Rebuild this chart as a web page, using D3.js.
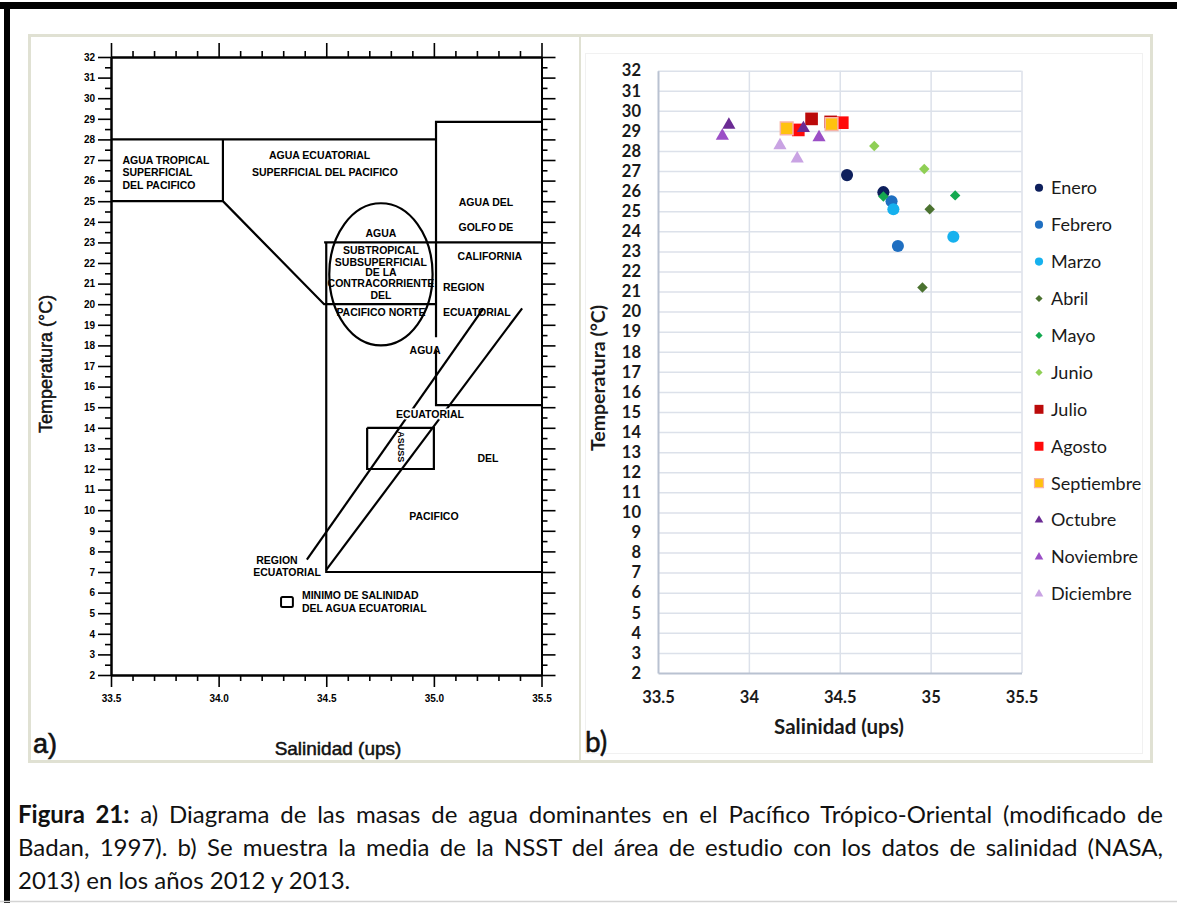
<!DOCTYPE html>
<html>
<head>
<meta charset="utf-8">
<script src="https://cdn.jsdelivr.net/npm/d3@7"></script>
<style>
  body { margin: 0; background: #fff; }
  #wrap { position: relative; width: 1177px; height: 903px; overflow: hidden; }
  #caption { position: absolute; left: 18px; top: 797px; width: 1145px;
             font-family: Lato, "Open Sans", sans-serif; font-size: 24px; line-height: 33px;
             color: #111; }
  #caption div { white-space: nowrap; }
  #caption .just { text-align: justify; text-align-last: justify; }
</style>
</head>
<body>
<div id="wrap"></div>
<script>
// ---------- panel a: water masses diagram (Badan, 1997) ----------
const salTicksA = [33.5, 34.0, 34.5, 35.0, 35.5];
const tempTicks = d3.range(2, 33);

// boundaries of the water masses, as [salinity, temperature] polylines
const massLines = [
  [[33.5, 28], [35.01, 28]],
  [[33.5, 25], [34.02, 25], [34.49, 20], [35.01, 20]],
  [[34.02, 28], [34.02, 25]],
  [[35.5, 28.85], [35.01, 28.85], [35.01, 18.4]],
  [[35.01, 17.8], [35.01, 15.1], [35.5, 15.1]],
  [[34.49, 23], [35.5, 23]],
  [[34.5, 23], [34.5, 7], [35.5, 7]],
  [[34.41, 7.6], [35.23, 19.8]],
  [[34.5, 7.1], [35.41, 19.8]],
  [[34.69, 14], [35.0, 14], [35.0, 12], [34.69, 12], [34.69, 14]]
];
const massEllipse = { s: 34.754, t: 21.45, ds: 0.24, dt: 3.45 };
const minimoBox = [[34.29, 5.79], [34.345, 5.3]];

// [salinity, temperature, text, anchor]
const massLabels = [
  [33.553, 27.0, "AGUA TROPICAL", "start"],
  [33.553, 26.42, "SUPERFICIAL", "start"],
  [33.553, 25.79, "DEL PACIFICO", "start"],
  [34.469, 27.24, "AGUA ECUATORIAL", "middle"],
  [34.494, 26.42, "SUPERFICIAL DEL PACIFICO", "middle"],
  [35.242, 24.96, "AGUA DEL", "middle"],
  [35.242, 23.75, "GOLFO DE", "middle"],
  [35.26, 22.34, "CALIFORNIA", "middle"],
  [34.754, 23.46, "AGUA", "middle"],
  [34.754, 22.63, "SUBTROPICAL", "middle"],
  [34.754, 22.05, "SUBSUPERFICIAL", "middle"],
  [34.754, 21.56, "DE LA", "middle"],
  [34.754, 21.03, "CONTRACORRIENTE", "middle"],
  [34.754, 20.45, "DEL", "middle"],
  [34.754, 19.62, "PACIFICO NORTE", "middle"],
  [35.042, 20.83, "REGION", "start"],
  [35.042, 19.62, "ECUATORIAL", "start"],
  [34.959, 17.78, "AGUA", "middle"],
  [34.982, 14.67, "ECUATORIAL", "middle"],
  [35.251, 12.53, "DEL", "middle"],
  [35.0, 9.72, "PACIFICO", "middle"],
  [34.271, 7.58, "REGION", "middle"],
  [34.318, 7.0, "ECUATORIAL", "middle"],
  [34.387, 5.88, "MINIMO DE SALINIDAD", "start"],
  [34.387, 5.25, "DEL AGUA ECUATORIAL", "start"]
];
const asswLabel = [34.85, 13.08, "ASUSS"];

// ---------- panel b: monthly NSST vs salinity ----------
const salTicksB = [33.5, 34, 34.5, 35, 35.5];
const months = ["Enero", "Febrero", "Marzo", "Abril", "Mayo", "Junio",
                "Julio", "Agosto", "Septiembre", "Octubre", "Noviembre", "Diciembre"];
const monthColors = ["#0d1f5c", "#1f6fc1", "#16b1ee", "#4b7230", "#14a84f", "#8fcf55",
                     "#bb0a0a", "#ff0a0a", "#ffc20e", "#6b2b94", "#9b4fc6", "#c9a3e3"];
const monthShapes = ["circle", "circle", "circle", "diamond", "diamond", "diamond",
                     "square", "square", "square", "triangle", "triangle", "triangle"];
const salinidad = [
  [34.54, 34.74], [34.785, 34.82], [34.795, 35.125], [34.995, 34.955],
  [34.74, 35.135], [34.69, 34.965], [34.345, 34.45], [34.272, 34.514],
  [34.208, 34.455], [33.89, 34.30], [33.854, 34.386], [34.171, 34.266]
];
const temperatura = [
  [26.8, 25.95], [25.5, 23.27], [25.1, 23.73], [25.1, 21.2],
  [25.73, 25.79], [28.25, 27.1], [29.6, 29.45], [29.05, 29.41],
  [29.13, 29.34], [29.3, 29.13], [28.75, 28.68], [28.28, 27.62]
];

// ---------- drawing ----------
const svg = d3.select("#wrap").append("svg")
    .attr("width", 1177).attr("height", 903)
    .style("position", "absolute").style("left", 0).style("top", 0);

// page frame
svg.append("rect").attr("x", 0).attr("y", 2).attr("width", 1177).attr("height", 7).attr("fill", "#000");
svg.append("rect").attr("x", 4).attr("y", 2).attr("width", 6).attr("height", 901).attr("fill", "#000");
svg.append("line").attr("x1", 0).attr("x2", 1177).attr("y1", 901.5).attr("y2", 901.5)
    .attr("stroke", "#d4d4d4").attr("stroke-width", 1.5);
svg.append("rect").attr("x", 29.5).attr("y", 35.5).attr("width", 1122).attr("height", 726)
    .attr("fill", "none").attr("stroke", "#e0e1d3").attr("stroke-width", 3);
svg.append("line").attr("x1", 580).attr("x2", 580).attr("y1", 35).attr("y2", 762)
    .attr("stroke", "#e0e1d3").attr("stroke-width", 2);

// ---- panel a ----
const xA = d3.scaleLinear([33.5, 35.5], [111, 541.5]);
const yA = d3.scaleLinear([2, 32], [675, 57]);
const gA = svg.append("g");
const fontA = "'Liberation Sans', Arial, sans-serif";

function styleAxisA(g) {
  g.select(".domain").attr("stroke", "#000").attr("stroke-width", 2);
  g.selectAll(".tick line").attr("stroke", "#000").attr("stroke-width", 1.6);
  g.selectAll(".tick text").attr("font-family", fontA).attr("font-weight", "bold")
      .attr("font-size", 10).attr("fill", "#000");
}
const minorSal = d3.range(0, 21).filter(i => i % 5).map(i => 33.5 + i * 0.1);
const minorTemp = d3.range(2.5, 32, 1);

gA.append("g").attr("transform", `translate(${xA(33.5)},0)`)
    .call(d3.axisLeft(yA).tickValues(tempTicks).tickSize(13).tickSizeOuter(0).tickPadding(3).tickFormat(d3.format("d")))
    .call(styleAxisA);
gA.append("g").attr("transform", `translate(${xA(33.5)},0)`)
    .call(d3.axisLeft(yA).tickValues(minorTemp).tickSize(6).tickSizeOuter(0).tickFormat(""))
    .call(styleAxisA);
gA.append("g").attr("transform", `translate(${xA(35.5)},0)`)
    .call(d3.axisRight(yA).tickValues(tempTicks).tickSize(14).tickSizeOuter(0).tickFormat(""))
    .call(styleAxisA);
gA.append("g").attr("transform", `translate(${xA(35.5)},0)`)
    .call(d3.axisRight(yA).tickValues(minorTemp).tickSize(6).tickSizeOuter(0).tickFormat(""))
    .call(styleAxisA);
gA.append("g").attr("transform", `translate(0,${yA(32)})`)
    .call(d3.axisTop(xA).tickValues(salTicksA).tickSize(14).tickSizeOuter(0).tickFormat(""))
    .call(styleAxisA);
gA.append("g").attr("transform", `translate(0,${yA(32)})`)
    .call(d3.axisTop(xA).tickValues(minorSal).tickSize(6).tickSizeOuter(0).tickFormat(""))
    .call(styleAxisA);
gA.append("g").attr("transform", `translate(0,${yA(2)})`)
    .call(d3.axisBottom(xA).tickValues(salTicksA).tickSize(12).tickSizeOuter(0).tickPadding(8).tickFormat(d3.format(".1f")))
    .call(styleAxisA);
gA.append("g").attr("transform", `translate(0,${yA(2)})`)
    .call(d3.axisBottom(xA).tickValues(minorSal).tickSize(6).tickSizeOuter(0).tickFormat(""))
    .call(styleAxisA);

const lineA = d3.line().x(d => xA(d[0])).y(d => yA(d[1]));
gA.selectAll("path.mass").data(massLines).join("path").attr("class", "mass")
    .attr("d", lineA).attr("fill", "none").attr("stroke", "#000").attr("stroke-width", 2.2);
gA.append("ellipse")
    .attr("cx", xA(massEllipse.s)).attr("cy", yA(massEllipse.t))
    .attr("rx", xA(massEllipse.s + massEllipse.ds) - xA(massEllipse.s))
    .attr("ry", yA(massEllipse.t - massEllipse.dt) - yA(massEllipse.t))
    .attr("fill", "none").attr("stroke", "#000").attr("stroke-width", 2.2);
gA.append("rect")
    .attr("x", xA(minimoBox[0][0])).attr("y", yA(minimoBox[0][1]))
    .attr("width", xA(minimoBox[1][0]) - xA(minimoBox[0][0]))
    .attr("height", yA(minimoBox[1][1]) - yA(minimoBox[0][1]))
    .attr("fill", "none").attr("stroke", "#000").attr("stroke-width", 2).attr("rx", 1.5);

gA.selectAll("text.mlab").data(massLabels).join("text").attr("class", "mlab")
    .attr("x", d => xA(d[0])).attr("y", d => yA(d[1])).attr("dy", "0.35em")
    .attr("text-anchor", d => d[3])
    .attr("font-family", fontA).attr("font-weight", "bold").attr("font-size", 10.5)
    .attr("stroke", (d, i) => i === 18 ? "#fff" : "none").attr("stroke-width", 3)
    .attr("paint-order", "stroke").attr("fill", "#000")
    .text(d => d[2]);
gA.append("text")
    .attr("transform", `translate(${xA(asswLabel[0])},${yA(asswLabel[1])}) rotate(90)`)
    .attr("text-anchor", "middle").attr("dy", "0.35em")
    .attr("font-family", fontA).attr("font-weight", "bold").attr("font-size", 9)
    .text(asswLabel[2]);

gA.append("text").attr("transform", "translate(52,364) rotate(-90)")
    .attr("text-anchor", "middle").attr("font-family", fontA).attr("font-size", 18)
    .attr("fill", "#111").attr("stroke", "#111").attr("stroke-width", 0.5)
    .text("Temperatura (°C)");
gA.append("text").attr("x", 338).attr("y", 755)
    .attr("text-anchor", "middle").attr("font-family", fontA).attr("font-size", 19)
    .attr("fill", "#111").attr("stroke", "#111").attr("stroke-width", 0.5)
    .text("Salinidad (ups)");
gA.append("text").attr("x", 33).attr("y", 753)
    .attr("font-family", fontA).attr("font-size", 27).attr("fill", "#111")
    .attr("stroke", "#111").attr("stroke-width", 0.6).text("a)");

// ---- panel b ----
const xB = d3.scaleLinear([33.5, 35.5], [658, 1021.5]);
const yB = d3.scaleLinear([2, 32], [673, 70.7]);
const gB = svg.append("g");
const fontB = "Lato, 'Open Sans', sans-serif";

gB.append("rect").attr("x", 585.5).attr("y", 53.5).attr("width", 557).attr("height", 700)
    .attr("fill", "none").attr("stroke", "#f1f1f1");

// grid
gB.append("g").attr("transform", `translate(${xB(33.5)},0)`)
    .call(d3.axisLeft(yB).tickValues(tempTicks.slice(1)).tickSize(-(xB(35.5) - xB(33.5))).tickFormat(""))
    .call(g => g.select(".domain").remove())
    .call(g => g.selectAll(".tick line").attr("stroke", "#dce1ea").attr("stroke-width", 1.5));
gB.append("g").attr("transform", `translate(0,${yB(2)})`)
    .call(d3.axisBottom(xB).tickValues(salTicksB.slice(1)).tickSize(-(yB(2) - yB(32))).tickFormat(""))
    .call(g => g.select(".domain").remove())
    .call(g => g.selectAll(".tick line").attr("stroke", "#dce1ea").attr("stroke-width", 1.5));

// axes
gB.append("g").attr("transform", `translate(${xB(33.5)},0)`)
    .call(d3.axisLeft(yB).tickValues(tempTicks).tickSize(0).tickSizeOuter(0).tickPadding(17).tickFormat(d3.format("d")))
    .call(g => g.select(".domain").attr("stroke", "#b9c2d1").attr("stroke-width", 2))
    .call(g => g.selectAll(".tick text").attr("font-family", fontB).attr("font-weight", "bold")
        .attr("font-size", 16.5).attr("fill", "#1a1a1a"));
gB.append("g").attr("transform", `translate(0,${yB(2)})`)
    .call(d3.axisBottom(xB).tickValues(salTicksB).tickSize(0).tickSizeOuter(0).tickPadding(18).tickFormat(d => String(d)))
    .call(g => g.select(".domain").attr("stroke", "#b9c2d1").attr("stroke-width", 2))
    .call(g => g.selectAll(".tick text").attr("font-family", fontB).attr("font-weight", "bold")
        .attr("font-size", 16.5).attr("fill", "#1a1a1a"));

const symbolType = { circle: d3.symbolCircle, diamond: d3.symbolSquare, square: d3.symbolSquare, triangle: d3.symbolTriangle };
const markSize = { circle: 115, diamond: 55, square: 160, triangle: 75 };
const legSize = { circle: 52, diamond: 26, square: 80, triangle: 32 };
const rot = shape => shape === "diamond" ? " rotate(45)" : "";

const points = months.flatMap((m, k) => salinidad[k].map((s, i) => ({ k, s, t: temperatura[k][i] })));
gB.selectAll("path.pt").data(points).join("path").attr("class", "pt")
    .attr("transform", d => `translate(${xB(d.s)},${yB(d.t)})${rot(monthShapes[d.k])}`)
    .attr("d", d => d3.symbol(symbolType[monthShapes[d.k]], markSize[monthShapes[d.k]])())
    .attr("fill", d => monthColors[d.k])
    .attr("stroke", d => months[d.k] === "Septiembre" ? "#f7b3a6" : "none")
    .attr("stroke-width", 1.5);

// legend
const yLeg = d3.scalePoint(months, [187.7, 594]);
const leg = gB.selectAll("g.leg").data(months).join("g").attr("class", "leg")
    .attr("transform", d => `translate(1039,${yLeg(d)})`);
leg.append("path")
    .attr("transform", (d, i) => rot(monthShapes[i]))
    .attr("d", (d, i) => d3.symbol(symbolType[monthShapes[i]], legSize[monthShapes[i]])())
    .attr("fill", (d, i) => monthColors[i])
    .attr("stroke", d => d === "Septiembre" ? "#f7b3a6" : "none").attr("stroke-width", 1.2);
leg.append("text").attr("x", 12).attr("dy", "0.35em")
    .attr("font-family", fontB).attr("font-size", 18).attr("fill", "#1a1a1a")
    .text(d => d);

gB.append("text").attr("transform", "translate(605,378) rotate(-90)")
    .attr("text-anchor", "middle").attr("font-family", fontB).attr("font-weight", "bold")
    .attr("font-size", 19.5).attr("fill", "#1a1a1a").text("Temperatura (°C)");
gB.append("text").attr("x", 839).attr("y", 734)
    .attr("text-anchor", "middle").attr("font-family", fontB).attr("font-weight", "bold")
    .attr("font-size", 20.5).attr("fill", "#1a1a1a").text("Salinidad (ups)");
gB.append("text").attr("x", 585).attr("y", 752)
    .attr("font-family", fontB).attr("font-size", 28).attr("fill", "#111")
    .attr("stroke", "#111").attr("stroke-width", 0.5).text("b)");

// caption
const cap = d3.select("#wrap").append("div").attr("id", "caption");
const l1 = cap.append("div").attr("class", "just");
l1.append("b").text("Figura 21:");
l1.append("span").text(" a) Diagrama de las masas de agua dominantes en el Pacífico Trópico-Oriental (modificado de");
cap.append("div").attr("class", "just")
    .text("Badan, 1997). b) Se muestra la media de la NSST del área de estudio con los datos de salinidad (NASA,");
cap.append("div").text("2013) en los años 2012 y 2013.");
</script>
</body>
</html>
